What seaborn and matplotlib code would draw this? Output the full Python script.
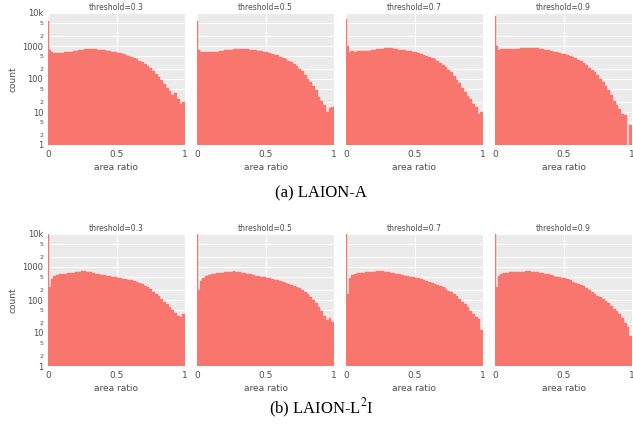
import numpy as np
import pandas as pd
import seaborn as sns
import matplotlib.pyplot as plt

# ---------- Data (counts per bin) ----------
# bins: one narrow spike bin at 0, one short bin, then 0.02-wide bins up to 1
EDGES = np.r_[0.0, 0.01, np.linspace(0.02, 1.0, 50)]
THRESHOLDS = [0.3, 0.5, 0.7, 0.9]
DATASETS = ["LAION-A", "LAION-L2I"]

laion_a_03 = [5600, 750, 640, 600, 610, 620, 630, 640, 650, 670, 690, 720, 740, 770, 800, 830,
              820, 810, 790, 770, 750, 740, 720, 710, 680, 650, 630, 600, 570, 530, 500, 470,
              430, 400, 360, 330, 290, 250, 210, 180, 140, 115, 95, 70, 55, 42, 32, 38, 25, 18, 20]
laion_a_05 = [5900, 750, 660, 650, 640, 650, 660, 670, 680, 700, 720, 740, 760, 780, 800, 820,
              830, 830, 810, 800, 780, 760, 740, 720, 700, 680, 650, 620, 590, 550, 520, 480,
              440, 400, 360, 320, 280, 240, 200, 170, 130, 100, 80, 60, 45, 28, 22, 16, 10, 13, 14]
laion_a_07 = [6800, 1000, 680, 690, 680, 690, 700, 700, 710, 730, 750, 770, 800, 820, 830, 850,
              860, 840, 820, 800, 780, 760, 740, 720, 700, 680, 650, 620, 580, 540, 510, 470,
              430, 390, 350, 310, 270, 230, 190, 160, 120, 95, 75, 55, 40, 30, 24, 18, 14, 9, 10]
laion_a_09 = [7900, 1000, 780, 800, 800, 810, 820, 820, 830, 830, 840, 840, 850, 860, 870, 870,
              860, 830, 800, 770, 740, 710, 680, 650, 620, 590, 560, 530, 500, 460, 420, 380,
              340, 300, 260, 220, 190, 160, 130, 100, 80, 60, 45, 32, 22, 16, 12, 9, 8, 1, 4]

laion_l2i_03 = [10000, 250, 420, 520, 570, 600, 620, 630, 640, 660, 680, 700, 720, 750, 750, 720,
                690, 660, 630, 610, 590, 570, 550, 520, 500, 490, 480, 460, 440, 430, 410, 400,
                380, 350, 330, 300, 270, 240, 210, 180, 155, 130, 110, 90, 75, 60, 50, 40, 32, 30, 38]
laion_l2i_05 = [10000, 200, 380, 480, 530, 570, 600, 620, 640, 660, 680, 690, 710, 730, 740, 730,
                710, 680, 650, 620, 600, 570, 550, 530, 510, 490, 480, 460, 440, 410, 390, 370,
                350, 330, 310, 290, 270, 250, 230, 200, 175, 150, 120, 100, 80, 60, 45, 32, 24, 28, 22]
laion_l2i_07 = [10000, 150, 450, 580, 620, 650, 670, 680, 690, 700, 710, 720, 740, 760, 750, 720,
                690, 660, 640, 620, 600, 570, 550, 530, 510, 490, 480, 450, 430, 400, 370, 350,
                330, 310, 290, 270, 250, 220, 190, 170, 150, 130, 110, 90, 75, 60, 48, 38, 30, 27, 12]
laion_l2i_09 = [10000, 250, 520, 620, 660, 680, 690, 700, 710, 720, 730, 730, 740, 740, 730, 710,
                690, 660, 640, 620, 600, 570, 540, 510, 490, 470, 450, 420, 390, 360, 330, 310,
                280, 260, 230, 200, 175, 155, 135, 120, 110, 95, 80, 65, 55, 45, 38, 28, 20, 15, 8]

COUNTS = {
    "LAION-A": [laion_a_03, laion_a_05, laion_a_07, laion_a_09],
    "LAION-L2I": [laion_l2i_03, laion_l2i_05, laion_l2i_07, laion_l2i_09],
}
CAPTIONS = ["(a) LAION-A", r"(b) LAION-L$^{2}$I"]

Y_TICKS = [1, 2, 5, 10, 20, 50, 100, 200, 500, 1000, 2000, 5000, 10000]
Y_LABELS = ["1", "2", "5", "10", "2", "5", "100", "2", "5", "1000", "2", "5", "10k"]
X_TICKS = [0, 0.5, 1]
X_LABELS = ["0", "0.5", "1"]

centers = (EDGES[:-1] + EDGES[1:]) / 2
rows = []
for ds in DATASETS:
    for t, vals in zip(THRESHOLDS, COUNTS[ds]):
        for c, v in zip(centers, vals):
            rows.append({"dataset": ds, "threshold": t, "area_ratio": c, "count": v})
df = pd.DataFrame(rows)

# ---------- Style ----------
sns.set_theme(style="darkgrid", rc={
    "axes.facecolor": "#EBEBEB",
    "grid.color": "white",
    "grid.linewidth": 0.7,
    "mathtext.fontset": "stix",
})

W, H = 633, 429
fig = plt.figure(figsize=(W / 100, H / 100), dpi=100)

BAR = "#F8766D"
GREY = "#4D4D4D"
lefts = [48, 197, 346, 495]
tops = [13, 234]
pw, ph = 137, 132

for r, ds in enumerate(DATASETS):
    for c, t in enumerate(THRESHOLDS):
        ax = fig.add_axes([lefts[c] / W, 1 - (tops[r] + ph) / H, pw / W, ph / H])
        sub = df[(df.dataset == ds) & (df.threshold == t)]
        sns.histplot(data=sub, x="area_ratio", weights="count", bins=EDGES.tolist(),
                     color=BAR, alpha=1, linewidth=0.3, edgecolor=BAR, ax=ax)
        ax.set_yscale("log")
        ax.set_ylim(1, 10000)
        ax.set_xlim(0, 1)
        ax.set_yticks(Y_TICKS)
        ax.minorticks_off()
        ax.set_xticks(X_TICKS)
        ax.set_xticklabels(X_LABELS, fontsize=6.5, color=GREY)
        if c == 0:
            ax.set_yticklabels(Y_LABELS, color=GREY)
            for lab, v in zip(ax.get_yticklabels(), Y_TICKS):
                lab.set_fontsize(6 if str(v)[0] == "1" else 4.5)
            ax.set_ylabel("count", fontsize=6.5, color=GREY, labelpad=3)
        else:
            ax.set_yticklabels([])
            ax.set_ylabel("")
        ax.tick_params(axis="both", length=2, width=0.6, color="#333333", pad=1.5)
        ax.set_xlabel("area ratio", fontsize=6.5, color=GREY, labelpad=3)
        ax.set_title(f"threshold={t}", fontsize=5.5, color=GREY, pad=2)
        ax.grid(True, which="major")
        ax.set_axisbelow(True)
        for s in ax.spines.values():
            s.set_visible(False)

for caption, yc in zip(CAPTIONS, [193, 408]):
    fig.text(321 / W, 1 - yc / H, caption, ha="center", va="center",
             fontsize=12, family="Liberation Serif", color="black")

fig.savefig("out.png", dpi=100)
